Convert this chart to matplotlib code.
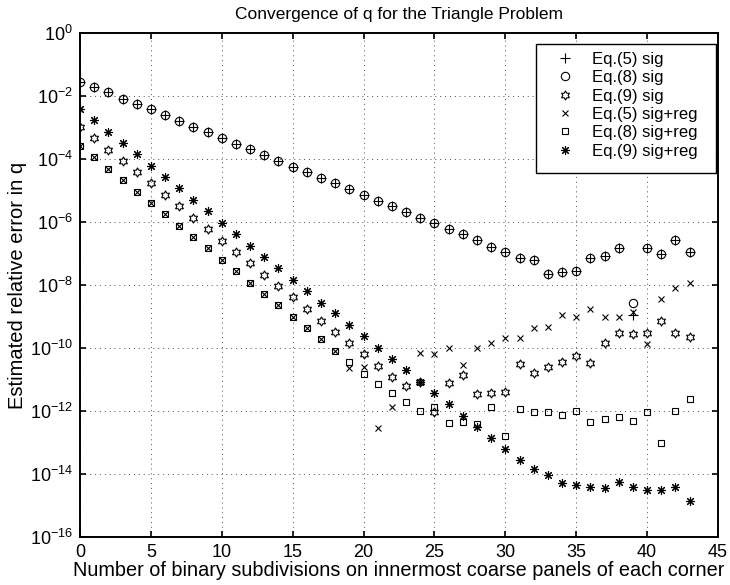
import numpy as np
import matplotlib
matplotlib.use("Agg")
import matplotlib.pyplot as plt
from matplotlib.path import Path
from matplotlib.patches import Rectangle
from matplotlib.ticker import FixedLocator, NullLocator

plt.rcParams["font.family"] = ["Liberation Sans", "DejaVu Sans"]
plt.rcParams["mathtext.fontset"] = "custom"
plt.rcParams["mathtext.rm"] = "Liberation Sans"
plt.rcParams["mathtext.it"] = "Liberation Sans:italic"

# ---------- data (log10 of estimated relative error) ----------
n_sub = list(range(44))

log_eq5_sig = [-1.54, -1.72, -1.88, -2.08, -2.25, -2.42, -2.61, -2.78, -2.97, -3.15,
               -3.33, -3.52, -3.69, -3.87, -4.05, -4.24, -4.42, -4.59, -4.77, -4.96,
               -5.13, -5.32, -5.49, -5.68, -5.86, -6.04, -6.22, -6.39, -6.57, -6.78,
               -6.96, -7.13, -7.21, -7.65, -7.58, -7.56, -7.13, -7.08, -6.83, -8.95,
               -6.83, -7.02, -6.57, -6.96]
log_eq8_sig = [-1.54, -1.72, -1.88, -2.08, -2.25, -2.42, -2.61, -2.78, -2.97, -3.15,
               -3.33, -3.52, -3.69, -3.87, -4.05, -4.24, -4.42, -4.59, -4.77, -4.96,
               -5.13, -5.32, -5.49, -5.68, -5.86, -6.04, -6.22, -6.39, -6.57, -6.78,
               -6.96, -7.13, -7.21, -7.65, -7.58, -7.56, -7.13, -7.08, -6.83, -8.58,
               -6.83, -7.02, -6.57, -6.96]
log_eq9_sig = [-2.97, -3.34, -3.71, -4.05, -4.42, -4.77, -5.14, -5.50, -5.87, -6.23,
               -6.60, -6.95, -7.31, -7.68, -8.03, -8.39, -8.76, -9.13, -9.49, -9.85,
               -10.19, -10.58, -10.92, -11.20, -11.07, -12.03, -11.11, -10.86, -11.47, -11.44,
               -11.39, -10.52, -10.81, -10.60, -10.44, -10.26, -10.49, -9.83, -9.52, -9.57,
               -9.54, -9.14, -9.54, -9.64]
log_eq5_reg = [-3.58, -3.94, -4.31, -4.66, -5.03, -5.39, -5.75, -6.12, -6.48, -6.83,
               -7.21, -7.56, -7.93, -8.29, -8.65, -9.01, -9.36, -9.73, -10.10, -10.65,
               -10.60, -12.54, -11.87, -10.70, -10.17, -10.19, -10.01, -10.54, -10.01, -9.83,
               -9.70, -9.70, -9.38, -9.33, -8.95, -9.03, -8.76, -9.01, -9.01, -8.87,
               -9.88, -8.45, -8.11, -7.95]
log_eq8_reg = [-3.58, -3.94, -4.31, -4.66, -5.03, -5.39, -5.75, -6.12, -6.48, -6.83,
               -7.21, -7.56, -7.93, -8.29, -8.65, -9.01, -9.36, -9.73, -10.10, -10.44,
               -10.82, -11.16, -11.44, -11.72, -12.00, -11.89, -12.38, -12.37, -12.43, -11.87,
               -12.79, -11.94, -12.05, -12.05, -12.13, -12.00, -12.35, -12.27, -12.21, -12.32,
               -12.03, -13.03, -12.00, -11.63]
log_eq9_reg = [-2.41, -2.76, -3.13, -3.50, -3.85, -4.21, -4.56, -4.93, -5.30, -5.66,
               -6.02, -6.38, -6.75, -7.11, -7.47, -7.84, -8.19, -8.56, -8.90, -9.27,
               -9.62, -9.99, -10.36, -10.70, -11.08, -11.44, -11.79, -12.16, -12.52, -12.87,
               -13.22, -13.56, -13.86, -14.04, -14.28, -14.36, -14.43, -14.46, -14.25, -14.41,
               -14.52, -14.50, -14.43, -14.86]

labels = ["Eq.(5) sig", "Eq.(8) sig", "Eq.(9) sig",
          "Eq.(5) sig+reg", "Eq.(8) sig+reg", "Eq.(9) sig+reg"]

# MATLAB-style hexagram (six-pointed star outline)
ang = np.deg2rad(90 + 30 * np.arange(12))
rad = np.where(np.arange(12) % 2 == 0, 1.0, 1 / np.sqrt(3))
verts = np.c_[rad * np.cos(ang), rad * np.sin(ang)]
hexagram = Path(np.vstack([verts, verts[:1]]), closed=True)

styles = [
    dict(marker="+", ms=7),
    dict(marker="o", ms=6, mfc="none"),
    dict(marker=hexagram, ms=6.5, mfc="none"),
    dict(marker="x", ms=5),
    dict(marker="s", ms=5, mfc="none"),
    dict(marker=(8, 2, 0), ms=6.5),
]
series = [log_eq5_sig, log_eq8_sig, log_eq9_sig, log_eq5_reg, log_eq8_reg, log_eq9_reg]

fig = plt.figure(figsize=(7.3, 5.85), dpi=100)
ax = fig.add_axes([80 / 730, 1 - 536.7 / 585, 638 / 730, 503.4 / 585])

for vals, st, lab in zip(series, styles, labels):
    ax.semilogy(n_sub, 10.0 ** np.array(vals), linestyle="none", color="k",
                mec="k", mew=0.8, label=lab, **st)

ax.set_xlim(0, 45)
ax.set_ylim(1e-16, 1e0)
ax.xaxis.set_major_locator(FixedLocator(np.arange(0, 46, 5)))
ax.yaxis.set_major_locator(FixedLocator([10.0 ** k for k in range(-16, 1, 2)]))
ax.yaxis.set_minor_locator(NullLocator())

ax.grid(True, which="major", color="0.3", linestyle=(0, (1, 4)), linewidth=0.7)
ax.tick_params(direction="in", length=4, width=1.2, top=True, right=True,
               labelsize=13, pad=5)
for s in ax.spines.values():
    s.set_linewidth(1.4)

ax.set_title("Convergence of q for the Triangle Problem", fontsize=12.5, pad=10)
ax.set_xlabel("Number of binary subdivisions on innermost coarse panels of each corner",
              fontsize=14.3, labelpad=0)
ax.set_ylabel("Estimated relative error in q", fontsize=14.5, labelpad=2)

# legend box drawn like MATLAB's, entries placed inside it
ax.add_patch(Rectangle((0.7147, 0.7225), 0.9969 - 0.7147, 0.9787 - 0.7225,
                       transform=ax.transAxes, fc="white", ec="k", lw=1.0, zorder=4))
leg = ax.legend(loc="upper left", bbox_to_anchor=(0.7276, 0.963), borderaxespad=0,
                borderpad=0, fontsize=12, handlelength=2.5, handletextpad=0.35,
                labelspacing=0.2, frameon=False)
leg.set_zorder(5)

fig.savefig("out.png", dpi=100)
